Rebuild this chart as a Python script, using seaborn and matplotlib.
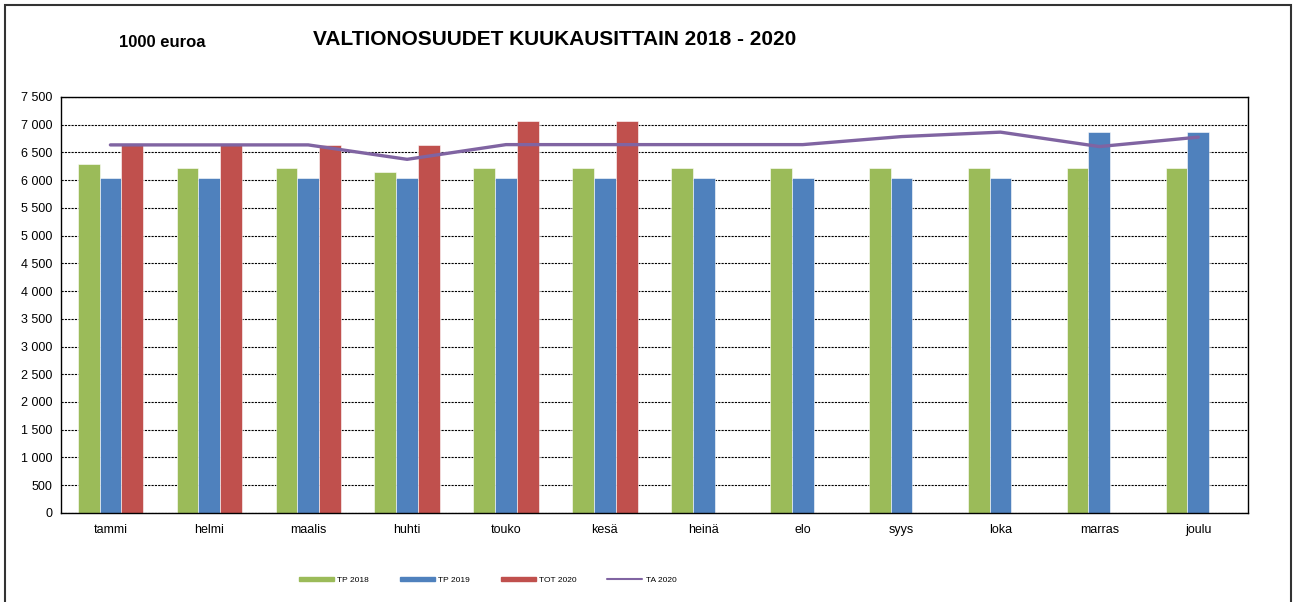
import numpy as np
import pandas as pd
import matplotlib.pyplot as plt
import matplotlib.patches as mpatches
from matplotlib.lines import Line2D
from matplotlib.ticker import FuncFormatter, FixedLocator
import seaborn as sns

MONTHS = ["tammi", "helmi", "maalis", "huhti", "touko", "kesä",
          "heinä", "elo", "syys", "loka", "marras", "joulu"]

TP_2018 = [6290, 6210, 6210, 6140, 6210, 6210, 6210, 6210, 6210, 6210, 6210, 6210]
TP_2019 = [6040, 6040, 6040, 6040, 6040, 6040, 6040, 6040, 6040, 6040, 6865, 6865]
TOT_2020 = [6635, 6635, 6635, 6635, 7060, 7060, np.nan, np.nan, np.nan, np.nan, np.nan, np.nan]
TA_2020 = [6635, 6635, 6635, 6375, 6640, 6640, 6640, 6640, 6785, 6865, 6605, 6775]

SERIES = ["TP 2018", "TP 2019", "TOT 2020"]
COLORS = ["#9BBB59", "#4F81BD", "#C0504D"]
LINE_COLOR = "#8064A2"

sns.set_theme(style="white")
plt.rcParams['font.family'] = ['Liberation Sans', 'DejaVu Sans']
plt.rcParams['text.color'] = "black"
plt.rcParams['xtick.color'] = "black"
plt.rcParams['ytick.color'] = "black"

df = pd.DataFrame({
    "kk": MONTHS * 3,
    "sarja": [s for s in SERIES for _ in MONTHS],
    "arvo": TP_2018 + TP_2019 + TOT_2020,
})

fig = plt.figure(figsize=(12.97, 6.02), dpi=100)
ax = fig.add_axes([0.047, 0.148, 0.915, 0.691])

sns.barplot(data=df, x="kk", y="arvo", hue="sarja", order=MONTHS, hue_order=SERIES,
            palette=COLORS, width=0.66, gap=0, saturation=1, errorbar=None,
            edgecolor="white", linewidth=0.4, ax=ax, legend=False)
sns.lineplot(x=np.arange(len(MONTHS)), y=TA_2020, color=LINE_COLOR, linewidth=2.4, ax=ax)

ax.set_xlim(-0.5, len(MONTHS) - 0.5)
ax.set_ylim(0, 7500)
ax.set_yticks(np.arange(0, 7501, 500))
ax.yaxis.set_major_formatter(FuncFormatter(lambda v, p: f"{int(v):,}".replace(",", " ")))
ax.set_xlabel("")
ax.set_ylabel("")
ax.xaxis.set_minor_locator(FixedLocator(np.arange(-0.5, len(MONTHS), 1)))
ax.tick_params(axis="x", which="major", length=0, labelsize=9, pad=8)
ax.tick_params(axis="x", which="minor", length=4, width=1, direction="out", color="black")
ax.tick_params(axis="y", length=4, width=1, direction="out", color="black", labelsize=9, pad=2)
ax.grid(axis="y", color="black", linestyle=(0, (2, 1)), linewidth=0.8)
ax.set_axisbelow(True)
for sp in ax.spines.values():
    sp.set_color("black")
    sp.set_linewidth(1)

handles = [mpatches.Patch(color=c, label=s) for s, c in zip(SERIES, COLORS)]
handles.append(Line2D([], [], color=LINE_COLOR, linewidth=1.5, label="TA 2020"))
fig.legend(handles=handles, loc="center", bbox_to_anchor=(0.376, 0.036), ncol=4,
           frameon=False, fontsize=6, handlelength=4.2, handleheight=0.4,
           columnspacing=3.7, handletextpad=0.4)

fig.text(0.428, 0.934, "VALTIONOSUUDET KUUKAUSITTAIN 2018 - 2020", ha="center", va="center",
         fontsize=15, fontweight="bold")
fig.text(0.125, 0.93, "1000 euroa", ha="center", va="center", fontsize=12, fontweight="bold")

fig.patches.append(mpatches.Rectangle((0.004, -0.02), 0.991, 1.012, transform=fig.transFigure,
                                      fill=False, edgecolor="#333333", linewidth=1.5))

fig.savefig("out.png", dpi=100)
